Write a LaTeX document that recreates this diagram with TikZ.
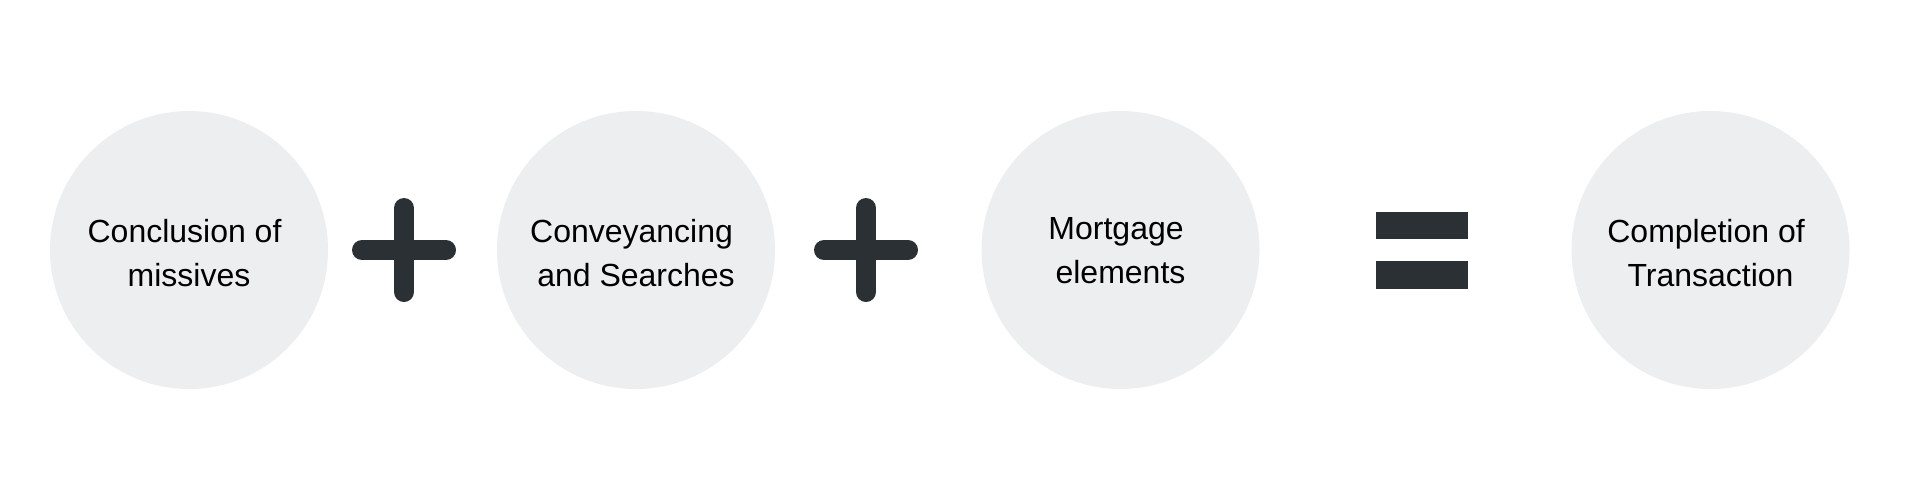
\documentclass[tikz,border=0pt]{standalone}
\usepackage{fontspec}
\setmainfont{Liberation Sans}
\definecolor{circfill}{HTML}{EDEEF0}
\definecolor{signcol}{HTML}{2B3035}
\newcommand{\tsp}{\rule{4.45pt}{0pt}}
\begin{document}
\begin{tikzpicture}[x=0.5pt,y=-0.5pt,
  stage/.style={circle, fill=circfill, draw=none, minimum size=139pt, inner sep=0pt},
  stagetext/.style={align=center, text=black, inner sep=0pt, yshift=-1.5pt,
    font=\fontsize{16}{22}\selectfont},
  plusbar/.style={draw=signcol, line width=10pt, line cap=round},
  eqbar/.style={fill=signcol, draw=none}]
\useasboundingbox (0,0) rectangle (1920,500);
\node[stage] (c1) at (189,250) {};
\node[stage] (c2) at (636,250) {};
\node[stage] (c3) at (1120.5,250) {};
\node[stage] (c4) at (1710.5,250) {};
\node[stagetext] (t1) at (c1) {Conclusion of\tsp\\missives};
\node[stagetext] (t2) at (c2) {Conveyancing\tsp\\and Searches};
\node[stagetext, yshift=1.25pt] (t3) at (c3) {Mortgage\tsp\\elements};
\node[stagetext] (t4) at (c4) {Completion of\tsp\\Transaction};
% plus signs
\coordinate (p1) at (404,250);
\coordinate (p2) at (866,250);
\foreach \p in {p1,p2}{
  \draw[plusbar] ([xshift=-21pt]\p) -- ([xshift=21pt]\p);
  \draw[plusbar] ([yshift=-21pt]\p) -- ([yshift=21pt]\p);
}
% equals sign
\fill[eqbar] (1376,212) rectangle (1468,239);
\fill[eqbar] (1376,261) rectangle (1468,289);
\end{tikzpicture}
\end{document}
